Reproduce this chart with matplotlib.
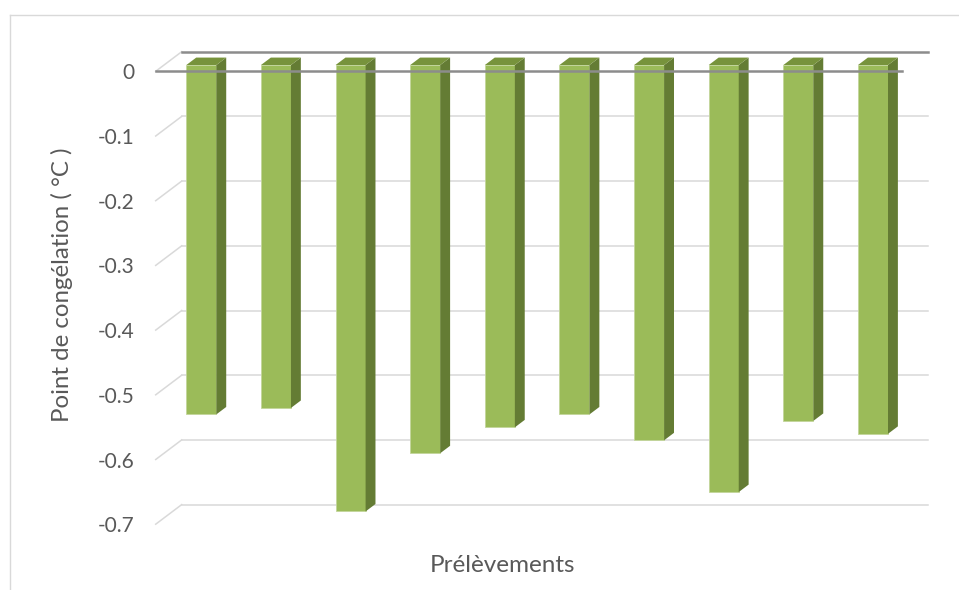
import matplotlib
matplotlib.use("Agg")
import matplotlib.pyplot as plt
from matplotlib.patches import Polygon
from matplotlib.lines import Line2D

# Freezing point per sample (°C)
samples = list(range(1, 11))
freezing_point = [-0.54, -0.53, -0.69, -0.60, -0.56, -0.54, -0.58, -0.66, -0.55, -0.57]
tick_values = [0, -0.1, -0.2, -0.3, -0.4, -0.5, -0.6, -0.7]
tick_labels = ["0", "-0.1", "-0.2", "-0.3", "-0.4", "-0.5", "-0.6", "-0.7"]
y_title = "Point de congélation ( °C )"
x_title = "Prélèvements"

# Colours
FRONT = "#9bbb59"
TOP = "#77933c"
SIDE = "#647c34"
EDGE = "#c3d69b"
GRID = "#d9d9d9"
ZERO = "#8c8c8c"
TEXT = "#595959"

W, H, DPI = 959, 590, 100
fig = plt.figure(figsize=(W / DPI, H / DPI), dpi=DPI)
fig.patch.set_facecolor("white")

# front plane: x 0..10 categories, y value axis
x_left_px, x_right_px = 155.7, 902.0
zero_px, px_per_unit = 71.3, 647.0
y_lo, y_hi = -0.75, 0.05
top_px = zero_px - y_hi * px_per_unit
bot_px = zero_px - y_lo * px_per_unit
ax = fig.add_axes([x_left_px / W, (H - bot_px) / H,
                   (x_right_px - x_left_px) / W, (bot_px - top_px) / H])
n = len(samples)
ax.set_xlim(0, n)
ax.set_ylim(y_lo, y_hi)
for s in ax.spines.values():
    s.set_visible(False)
ax.set_xticks([])
ax.set_yticks(tick_values)
ax.set_yticklabels(tick_labels)
ax.tick_params(axis="y", length=0, pad=15.5, labelsize=15, labelcolor=TEXT)
for lab in ax.get_yticklabels():
    lab.set_fontfamily("Lato")

# depth of the floor, in data units
cat_px = (x_right_px - x_left_px) / n
DX = 26.0 / cat_px
DY = 19.6 / px_per_unit

# back wall gridlines with the diagonal floor edge on the left
for v in tick_values:
    ax.add_line(Line2D([0, DX], [v, v + DY], color=GRID, lw=1.1, zorder=1, clip_on=False))
    if v != 0:
        ax.add_line(Line2D([DX, n + DX], [v + DY, v + DY], color=GRID, lw=1.1,
                           zorder=1, clip_on=False))
ax.add_line(Line2D([DX, n + DX], [DY, DY], color=ZERO, lw=1.8, zorder=1, clip_on=False))

# 3D bars: front face, side face and top face
f0, f1 = 0.32, 0.70
bw = 30.0 / cat_px
ox0, oy0 = f0 * DX, f0 * DY
sdx, sdy = (f1 - f0) * DX, (f1 - f0) * DY
centers = [i + 0.5 + ox0 for i in range(n)]
ax.bar(centers, freezing_point, width=bw, bottom=oy0, color=FRONT,
       edgecolor=EDGE, linewidth=0.6, zorder=3, clip_on=False)
for c, v in zip(centers, freezing_point):
    xl, xr = c - bw / 2, c + bw / 2
    yt, yb = oy0, oy0 + v
    ax.add_patch(Polygon([(xr, yt), (xr, yb), (xr + sdx, yb + sdy), (xr + sdx, yt + sdy)],
                         closed=True, facecolor=SIDE, edgecolor="none", zorder=3, clip_on=False))
    ax.add_patch(Polygon([(xl, yt), (xr, yt), (xr + sdx, yt + sdy), (xl + sdx, yt + sdy)],
                         closed=True, facecolor=TOP, edgecolor="none", zorder=3, clip_on=False))

# front zero line over the bars
ax.add_line(Line2D([0, n], [0, 0], color=ZERO, lw=1.8, zorder=5, clip_on=False))

# axis titles
fig.text(62 / W, 1 - 285 / H, y_title, rotation=90, ha="center", va="center",
         fontsize=17.3, color=TEXT, family="Lato")
fig.text(503 / W, 1 - 566 / H, x_title, ha="center", va="center",
         fontsize=17.5, color=TEXT, family="Lato")

# chart frame
fig.add_artist(Line2D([10 / W, 1], [1 - 15 / H, 1 - 15 / H], transform=fig.transFigure,
                      color=GRID, lw=1.0))
fig.add_artist(Line2D([10 / W, 10 / W], [0, 1 - 15 / H], transform=fig.transFigure,
                      color=GRID, lw=1.0))

fig.savefig("out.png", dpi=DPI, facecolor="white")
